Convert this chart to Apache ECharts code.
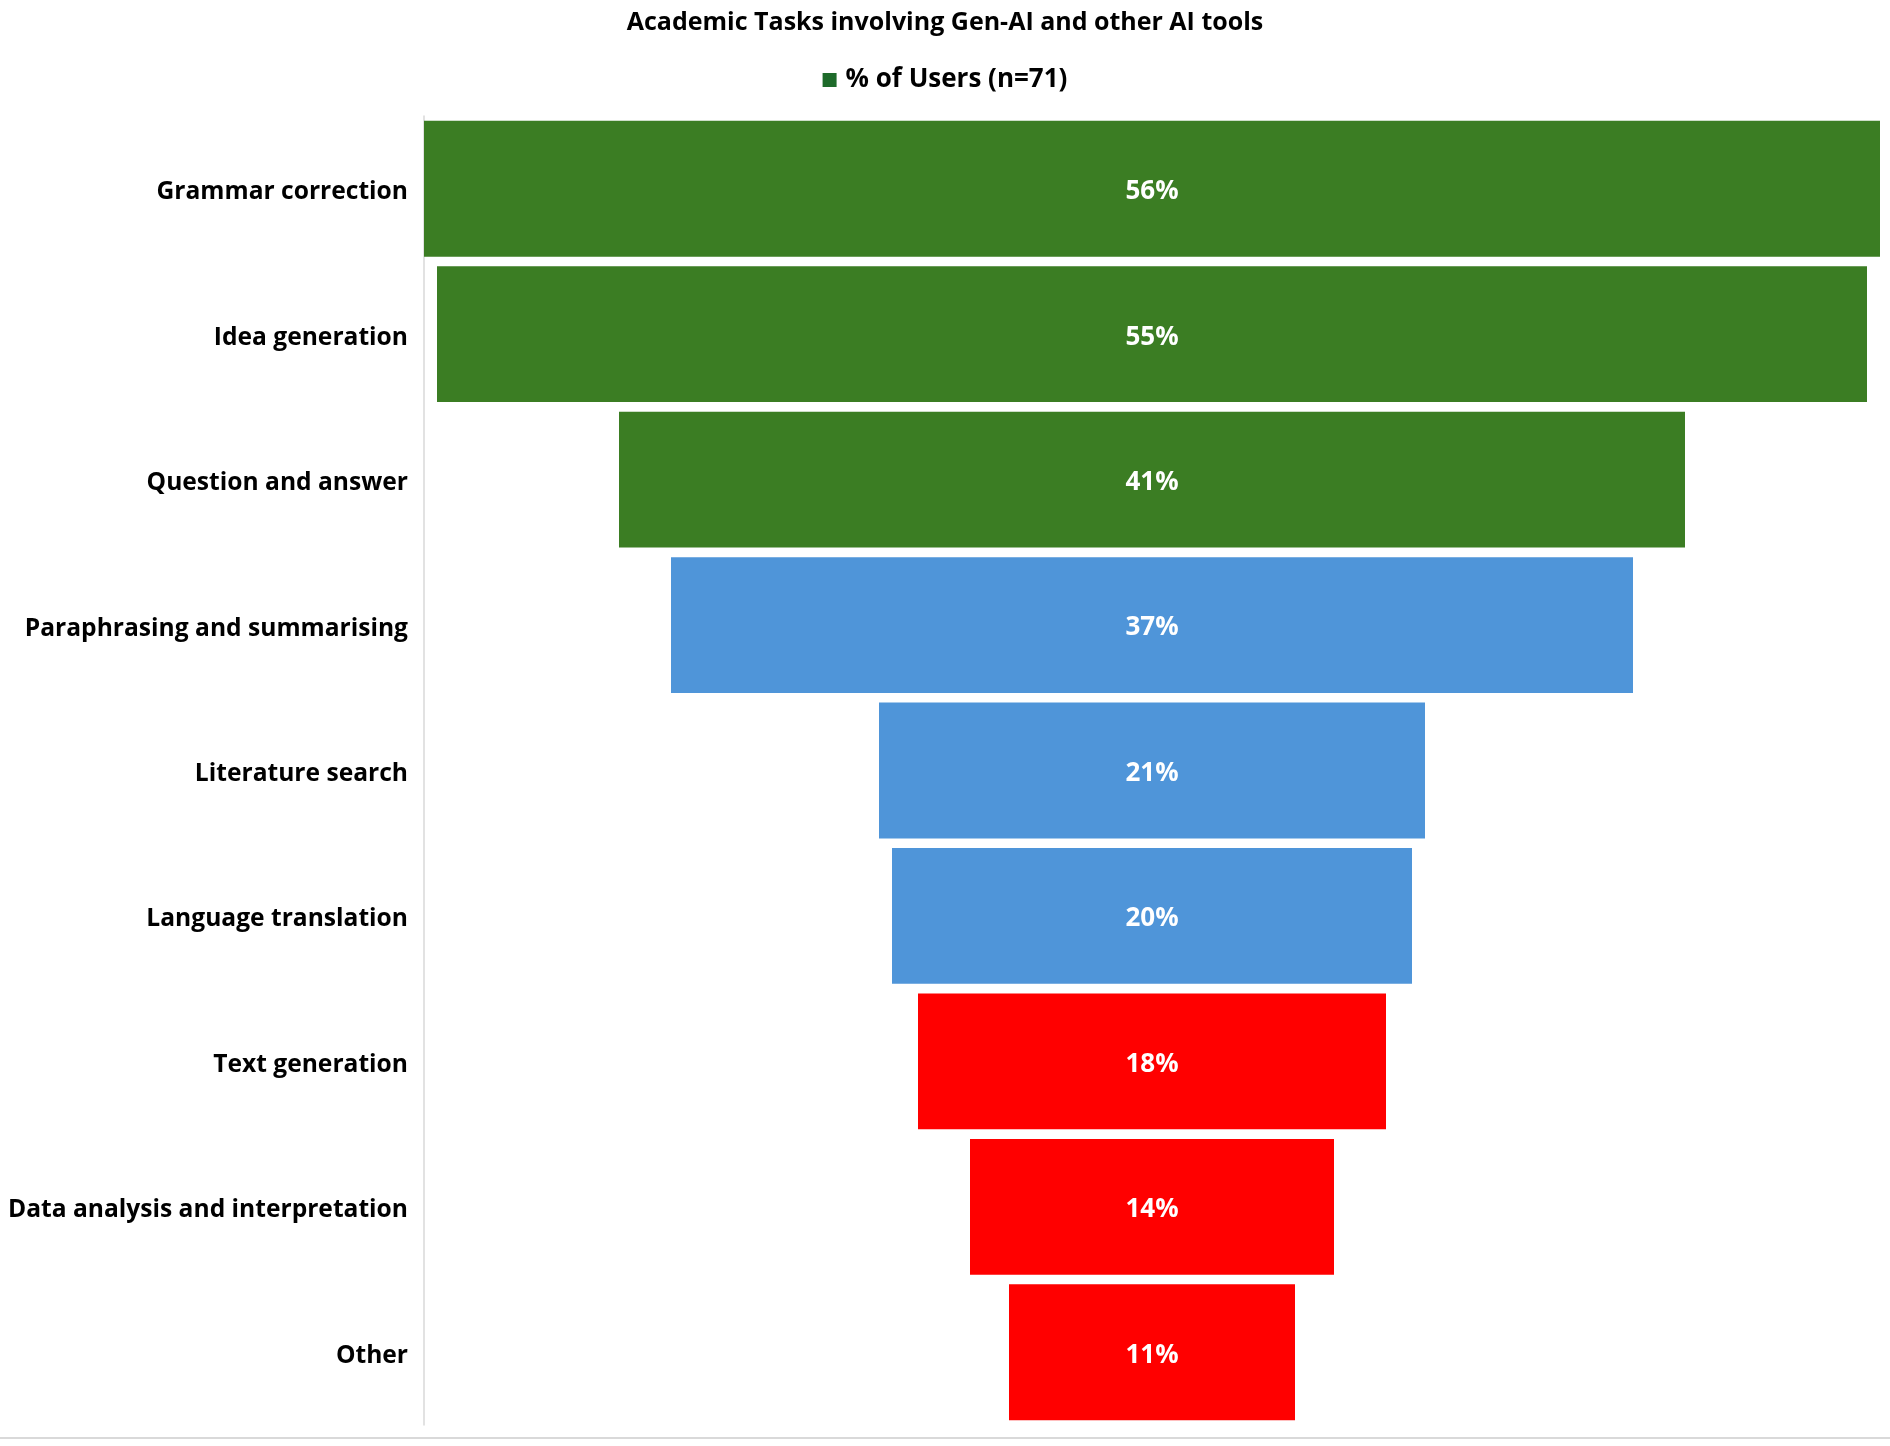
<!DOCTYPE html>
<html>
<head>
<meta charset="utf-8">
<script src="https://cdn.jsdelivr.net/npm/echarts@6/dist/echarts.min.js"></script>
<style>html,body{margin:0;padding:0;background:#fff}#c{width:1890px;height:1446px}</style>
</head>
<body>
<div id="c"></div>
<script>
const categories = ["Grammar correction","Idea generation","Question and answer","Paraphrasing and summarising","Literature search","Language translation","Text generation","Data analysis and interpretation","Other"];
const values = [56,55,41,37,21,20,18,14,11];
const groups = ["high","high","high","mid","mid","mid","low","low","low"];
const seriesName = "% of Users (n=71)";
const titleText = "Academic Tasks involving Gen-AI and other AI tools";

const groupColors = {high:"#3B7D23", mid:"#4F95D9", low:"#FF0000"};
const maxV = Math.max(...values);
const offsets = values.map(v => (maxV - v) / 2);
const FONT = "'Open Sans', 'Noto Sans', sans-serif";

const chart = echarts.init(document.getElementById('c'));
chart.setOption({
  animation:false,
  backgroundColor:'#fff',
  title:{text:titleText,left:'center',top:5,textStyle:{fontFamily:FONT,fontWeight:'bold',fontSize:25,color:'#000'}},
  legend:{data:[{name:seriesName,itemStyle:{color:'#1E6B2A'}}],top:62,left:'center',itemWidth:14,itemHeight:14,icon:'rect',itemGap:10,
    textStyle:{fontFamily:FONT,fontWeight:'bold',fontSize:26,color:'#000',padding:[0,0,0,4]}},
  grid:{left:424,right:10,top:116,bottom:21,containLabel:false},
  xAxis:{type:'value',min:0,max:maxV,show:false},
  yAxis:{type:'category',data:categories,inverse:true,
    axisLine:{show:true,lineStyle:{color:'#d9d9d9',width:1.5}},axisTick:{show:false},splitLine:{show:false},
    axisLabel:{margin:16,formatter:v=>'{a|'+v+'}',
      rich:{a:{fontFamily:FONT,fontWeight:'bold',fontSize:24.6,color:'#000',padding:[7,0,0,0]}}}},
  graphic:[{type:'line',shape:{x1:0,y1:1438,x2:1890,y2:1438},style:{stroke:'#d9d9d9',lineWidth:2}}],
  series:[
    {name:'offset',type:'bar',stack:'f',data:offsets,itemStyle:{color:'transparent'},barCategoryGap:'6.6%',silent:true},
    {name:seriesName,type:'bar',stack:'f',barCategoryGap:'6.6%',
      data:values.map((v,i)=>({value:v,itemStyle:{color:groupColors[groups[i]]}})),
      label:{show:true,position:'inside',offset:[0,3],formatter:'{c}%',fontFamily:FONT,fontWeight:'bold',fontSize:26,color:'#fff'}}
  ]
});
</script>
</body>
</html>
